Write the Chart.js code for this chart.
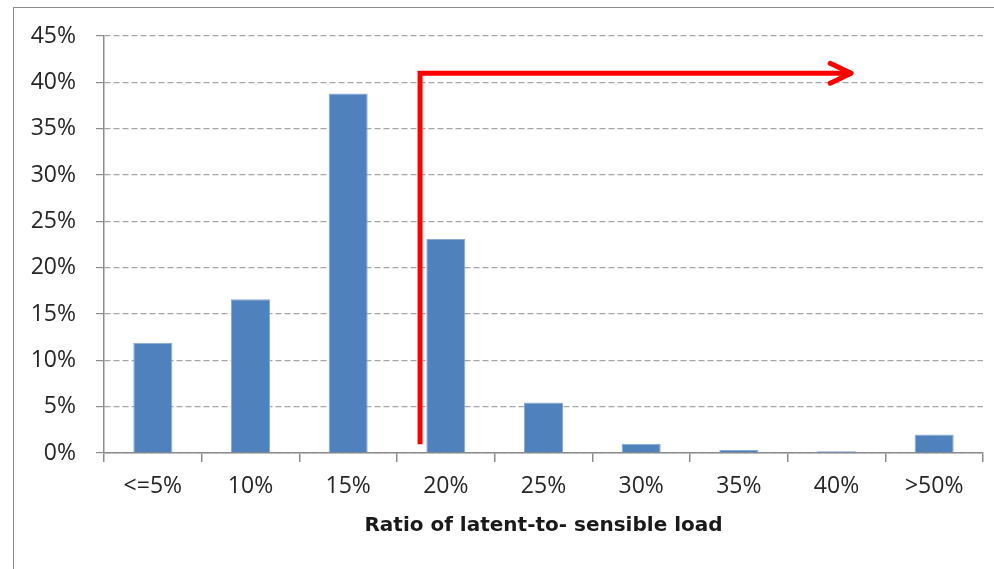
<!DOCTYPE html>
<html>
<head>
<meta charset="utf-8">
<script src="https://cdn.jsdelivr.net/npm/chart.js@4/dist/chart.umd.min.js"></script>
<style>
  html, body { margin: 0; padding: 0; background: #ffffff; }
  #wrap { position: relative; width: 994px; height: 569px; overflow: hidden; }
  #frame { position: absolute; left: 13px; top: 7px; width: 1200px; height: 800px;
           border-left: 1.5px solid #8c8c8c; border-top: 1.5px solid #8c8c8c; pointer-events: none; }
  canvas { position: absolute; left: 0; top: 0; }
</style>
</head>
<body>
<div id="wrap">
  <canvas id="c" width="994" height="569"></canvas>
  <div id="frame"></div>
</div>
<script>
// ---- data ----
const categories = ['<=5%', '10%', '15%', '20%', '25%', '30%', '35%', '40%', '>50%'];
const shares = [11.9, 16.6, 38.8, 23.1, 5.45, 1.0, 0.33, 0.18, 2.0];
const yTicks = [0, 5, 10, 15, 20, 25, 30, 35, 40, 45];
const xAxisTitle = 'Ratio of latent-to- sensible load';
// red arrow path: x in category-index units, y in percent
const arrowX = [2.736, 2.736, 7.15];
const arrowY = [0.94, 40.98, 40.98];

const arrowPlugin = {
  id: 'redArrow',
  afterDatasetsDraw(chart) {
    const { ctx, scales: { x, y } } = chart;
    const pts = arrowX.map((v, i) => [x.getPixelForValue(v), y.getPixelForValue(arrowY[i])]);
    ctx.save();
    ctx.strokeStyle = '#ff0000';
    ctx.lineWidth = 5;
    ctx.lineJoin = 'miter';
    ctx.lineCap = 'butt';
    ctx.beginPath();
    ctx.moveTo(pts[0][0], pts[0][1]);
    for (let i = 1; i < pts.length; i++) ctx.lineTo(pts[i][0], pts[i][1]);
    ctx.stroke();
    // arrow head (open chevron)
    const tip = pts[pts.length - 1];
    ctx.lineCap = 'round';
    ctx.lineJoin = 'round';
    ctx.beginPath();
    ctx.moveTo(tip[0] - 21, tip[1] - 10);
    ctx.lineTo(tip[0], tip[1]);
    ctx.lineTo(tip[0] - 21, tip[1] + 10);
    ctx.stroke();
    ctx.restore();
  }
};

new Chart(document.getElementById('c'), {
  type: 'bar',
  data: {
    labels: categories,
    datasets: [{
      data: shares,
      backgroundColor: '#4f81bd',
      borderColor: '#8aaad6',
      borderWidth: 1,
      categoryPercentage: 1.0,
      barPercentage: 0.4
    }]
  },
  options: {
    responsive: false,
    animation: false,
    devicePixelRatio: 1,
    layout: { padding: { top: 36, right: 11, left: 0, bottom: 0 } },
    plugins: { legend: { display: false }, tooltip: { enabled: false } },
    scales: {
      x: {
        offset: true,
        afterFit(s) { s.height = 116; },
        grid: { display: true, drawOnChartArea: false, drawTicks: true, tickLength: 9, offset: true, color: '#8c8c8c', lineWidth: 1.5 },
        border: { display: true, color: '#8c8c8c', width: 1.5 },
        ticks: { color: '#262626', padding: 11, font: { family: 'Open Sans', size: 23 } },
        title: { display: true, text: xAxisTitle, color: '#1a1a1a', font: { family: 'DejaVu Sans', size: 20, weight: 'bold' }, padding: { top: 0, bottom: 31 } }
      },
      y: {
        min: 0, max: 45,
        afterFit(s) { s.width = 104; },
        afterBuildTicks(s) { s.ticks = yTicks.map(v => ({ value: v })); },
        grid: { color: '#a6a6a6', lineWidth: 1.2, drawTicks: true, tickLength: 8, tickColor: '#8c8c8c' },
        border: { display: true, color: '#8c8c8c', width: 1.5, dash: [6, 3] },
        ticks: { color: '#262626', padding: 20, font: { family: 'Open Sans', size: 23 }, callback: v => v + '%' }
      }
    }
  },
  plugins: [arrowPlugin]
});
</script>
</body>
</html>
